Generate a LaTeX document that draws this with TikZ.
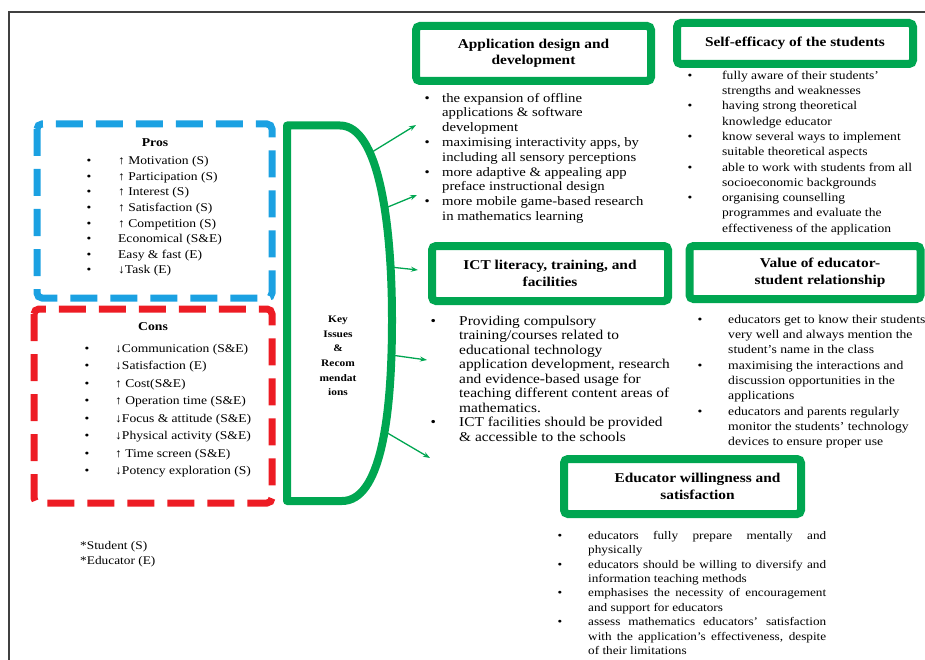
\documentclass[tikz,border=0pt]{standalone}
\usepackage{fontspec}
\setmainfont{Liberation Serif}[FakeStretch=1.14]
\usetikzlibrary{arrows.meta}
\definecolor{kgreen}{RGB}{0,166,81}
\definecolor{kblue}{RGB}{27,161,226}
\definecolor{kred}{RGB}{237,28,36}
\newcommand{\blist}[2]{\begin{tabular}{@{}p{#1}@{}l@{}}#2\end{tabular}}
\newcommand{\uarr}{↑}
\newcommand{\darr}{↓}
\newcommand{\jl}[1]{\makebox[238pt][s]{#1}}
\begin{document}
\begin{tikzpicture}[x=1pt, y=-1pt, >={Stealth[length=7pt,width=5pt]},
  titlebox/.style={draw=kgreen, line width=8pt, rounded corners=4pt, align=center, inner sep=2pt,
    font=\fontsize{13.5}{16.5}\selectfont\bfseries},
  dashbox/.style={line width=7pt, dash pattern=on 27pt off 13pt, rounded corners=5pt},
  lst/.style={anchor=north west, inner sep=0pt},
  arr/.style={->, kgreen, line width=1.3pt}]
\useasboundingbox (0,0) rectangle (925,660);
\draw[black!75, line width=1.5pt] (9,660) -- (9,12) -- (925,12);
% pros and cons
\draw[kblue, dashbox] (37,124) rectangle (272,298);
\draw[kred, dashbox] (34,309) rectangle (272,503);
\node[font=\fontsize{12}{14}\selectfont\bfseries] (pros) at (155,143) {Pros};
\node[lst, font=\fontsize{11.9}{15.6}\selectfont] (proslist) at (86.3,153.6) {\blist{31.7pt}{
  \textbullet & \uarr\ Motivation (S)\\
  \textbullet & \uarr\ Participation (S)\\
  \textbullet & \uarr\ Interest (S)\\
  \textbullet & \uarr\ Satisfaction (S)\\
  \textbullet & \uarr\ Competition (S)\\
  \textbullet & Economical (S\&E)\\
  \textbullet & Easy \& fast (E)\\
  \textbullet & \darr Task (E)}};
\node[font=\fontsize{12}{14}\selectfont\bfseries] (cons) at (153,327) {Cons};
\node[lst, font=\fontsize{11.9}{17.5}\selectfont] (conslist) at (84.3,339.7) {\blist{30.7pt}{
  \textbullet & \darr Communication (S\&E)\\
  \textbullet & \darr Satisfaction (E)\\
  \textbullet & \uarr\ Cost(S\&E)\\
  \textbullet & \uarr\ Operation time (S\&E)\\
  \textbullet & \darr Focus \& attitude (S\&E)\\
  \textbullet & \darr Physical activity (S\&E)\\
  \textbullet & \uarr\ Time screen (S\&E)\\
  \textbullet & \darr Potency exploration (S)}};
\node[lst, align=left, font=\fontsize{11.7}{15}\selectfont] (legend) at (80,541) {*Student (S)\\{*}Educator (E)};
% key issues
\draw[kgreen, line width=8pt, line join=round] (287,501) -- (287,125.5) -- (340,125.5)
  .. controls (378,125.5) and (392,220) .. coordinate[pos=.33] (k1) coordinate[pos=.6] (k2) coordinate[pos=.82] (k3) (392,320)
  .. controls (392,420) and (380,501) .. coordinate[pos=.12] (k4) coordinate[pos=.42] (k5) (342,501) -- cycle;
\node[align=center, font=\fontsize{10}{14.6}\selectfont\bfseries] (key) at (338,356) {Key\\Issues\\\&\\Recom\\mendat\\ions};
% recommendations
\node[titlebox, minimum width=235pt, minimum height=55pt] (appdev) at (533.5,53.5) {Application design and\\development};
\node[titlebox, minimum width=236pt, minimum height=41pt] (selfeff) at (795,43.5) {Self-efficacy of the students};
\node[titlebox, minimum width=236pt, minimum height=55pt] (ict) at (550,273.5) {ICT literacy, training, and\\facilities};
\node[titlebox, minimum width=231pt, minimum height=53pt] (value) at (805,272.5) {\hspace*{30pt}Value of educator-\\\hspace*{30pt}student relationship};
\node[titlebox, minimum width=237pt, minimum height=55pt] (willing) at (682.5,486.5) {\hspace*{30pt}Educator willingness and\\\hspace*{30pt}satisfaction};
\node[lst, font=\fontsize{12.9}{14.8}\selectfont] (applist) at (424.3,91.6) {\blist{17.7pt}{
  \textbullet & the expansion of offline\\
  & applications \& software\\
  & development\\
  \textbullet & maximising interactivity apps, by\\
  & including all sensory perceptions\\
  \textbullet & more adaptive \& appealing app\\
  & preface instructional design\\
  \textbullet & more mobile game-based research\\
  & in mathematics learning}};
\node[lst, font=\fontsize{11.9}{15.3}\selectfont] (selflist) at (687.3,68.3) {\blist{34.7pt}{
  \textbullet & fully aware of their students'\\
  & strengths and weaknesses\\
  \textbullet & having strong theoretical\\
  & knowledge educator\\
  \textbullet & know several ways to implement\\
  & suitable theoretical aspects\\
  \textbullet & able to work with students from all\\
  & socioeconomic backgrounds\\
  \textbullet & organising counselling\\
  & programmes and evaluate the\\
  & effectiveness of the application}};
\node[lst, font=\fontsize{13.5}{14.5}\selectfont] (ictlist) at (430.3,314.8) {\blist{28.7pt}{
  \textbullet & Providing compulsory\\
  & training/courses related to\\
  & educational technology\\
  & application development, research\\
  & and evidence-based usage for\\
  & teaching different content areas of\\
  & mathematics.\\
  \textbullet & ICT facilities should be provided\\
  & \& accessible to the schools}};
\node[lst, font=\fontsize{12}{15.3}\selectfont] (valuelist) at (697.3,312.3) {\blist{30.7pt}{
  \textbullet & educators get to know their students\\
  & very well and always mention the\\
  & student's name in the class\\
  \textbullet & maximising the interactions and\\
  & discussion opportunities in the\\
  & applications\\
  \textbullet & educators and parents regularly\\
  & monitor the students' technology\\
  & devices to ensure proper use}};
\node[lst, font=\fontsize{11.6}{14.4}\selectfont] (willinglist) at (557.3,529) {\blist{30.7pt}{
  \textbullet & \jl{educators fully prepare mentally and}\\
  & physically\\
  \textbullet & \jl{educators should be willing to diversify and}\\
  & information teaching methods\\
  \textbullet & \jl{emphasises the necessity of encouragement}\\
  & and support for educators\\
  \textbullet & \jl{assess mathematics educators' satisfaction}\\
  & \jl{with the application's effectiveness, despite}\\
  & of their limitations}};
% arrows
\coordinate (t1) at (416,125);
\coordinate (t2) at (417,195);
\coordinate (t3) at (418,270);
\coordinate (t4) at (427,360);
\coordinate (t5) at (430,458);
\foreach \i in {1,...,5} \draw[arr] (k\i) -- (t\i);
\end{tikzpicture}
\end{document}
